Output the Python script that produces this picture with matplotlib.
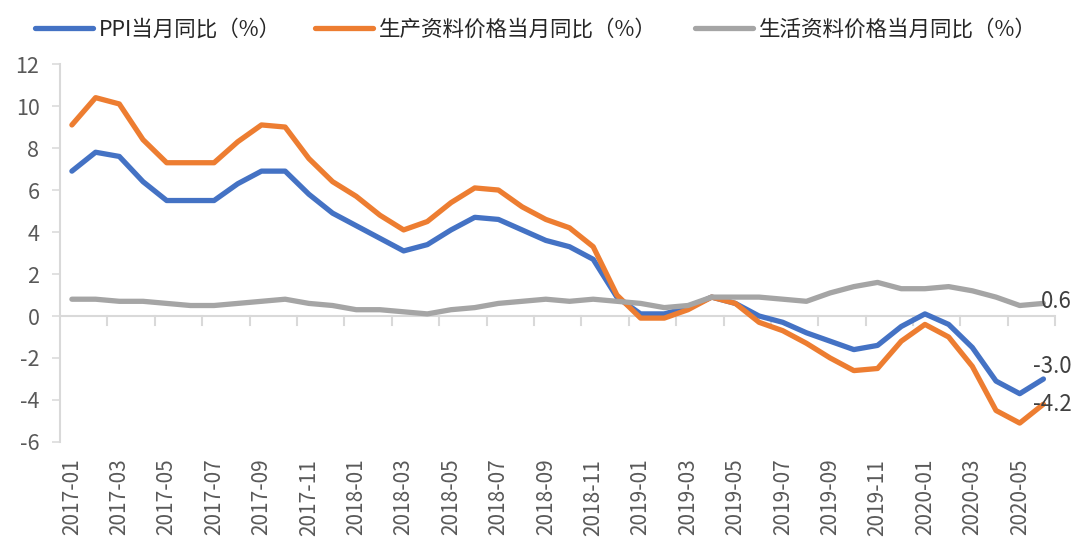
import matplotlib
matplotlib.use("Agg")
import matplotlib.pyplot as plt

plt.rcParams['font.family'] = ['Noto Sans CJK SC', 'DejaVu Sans']
plt.rcParams['axes.unicode_minus'] = False

months = ["2017-01", "2017-02", "2017-03", "2017-04", "2017-05", "2017-06", "2017-07", "2017-08", "2017-09",
          "2017-10", "2017-11", "2017-12", "2018-01", "2018-02", "2018-03", "2018-04", "2018-05", "2018-06",
          "2018-07", "2018-08", "2018-09", "2018-10", "2018-11", "2018-12", "2019-01", "2019-02", "2019-03",
          "2019-04", "2019-05", "2019-06", "2019-07", "2019-08", "2019-09", "2019-10", "2019-11", "2019-12",
          "2020-01", "2020-02", "2020-03", "2020-04", "2020-05", "2020-06"]
ppi = [6.9, 7.8, 7.6, 6.4, 5.5, 5.5, 5.5, 6.3, 6.9, 6.9, 5.8, 4.9,
       4.3, 3.7, 3.1, 3.4, 4.1, 4.7, 4.6, 4.1, 3.6, 3.3, 2.7, 0.9,
       0.1, 0.1, 0.4, 0.9, 0.6, 0.0, -0.3, -0.8, -1.2, -1.6, -1.4, -0.5,
       0.1, -0.4, -1.5, -3.1, -3.7, -3.0]
producer = [9.1, 10.4, 10.1, 8.4, 7.3, 7.3, 7.3, 8.3, 9.1, 9.0, 7.5, 6.4,
            5.7, 4.8, 4.1, 4.5, 5.4, 6.1, 6.0, 5.2, 4.6, 4.2, 3.3, 1.0,
            -0.1, -0.1, 0.3, 0.9, 0.6, -0.3, -0.7, -1.3, -2.0, -2.6, -2.5, -1.2,
            -0.4, -1.0, -2.4, -4.5, -5.1, -4.2]
consumer = [0.8, 0.8, 0.7, 0.7, 0.6, 0.5, 0.5, 0.6, 0.7, 0.8, 0.6, 0.5,
            0.3, 0.3, 0.2, 0.1, 0.3, 0.4, 0.6, 0.7, 0.8, 0.7, 0.8, 0.7,
            0.6, 0.4, 0.5, 0.9, 0.9, 0.9, 0.8, 0.7, 1.1, 1.4, 1.6, 1.3,
            1.3, 1.4, 1.2, 0.9, 0.5, 0.6]
names = ["PPI当月同比（%）", "生产资料价格当月同比（%）", "生活资料价格当月同比（%）"]
colors = ["#4472C4", "#ED7D31", "#A5A5A5"]
legend_x = [0.0324, 0.2917, 0.6435]

fig = plt.figure(figsize=(10.8, 5.57), dpi=100)
ax = fig.add_axes([0.0556, 0.2065, 0.9215, 0.6785])

x = list(range(len(months)))
lines = []
for ys, name, c in zip([ppi, producer, consumer], names, colors):
    ln, = ax.plot(x, ys, color=c, lw=3.8, label=name, solid_capstyle='round', solid_joinstyle='round')
    lines.append(ln)

ax.set_xlim(-0.5, len(months) - 0.5)
ax.set_ylim(-6, 12)
ax.set_yticks(range(-6, 13, 2))
ax.tick_params(axis='y', length=5.8, width=1.1, color='#D9D9D9', labelsize=15.5, labelcolor='#595959', pad=9)

ax.set_xticks(x[::2])
ax.set_xticklabels(months[::2], rotation=90, fontsize=15, color='#595959')
ax.tick_params(axis='x', length=0, pad=12)

# zero axis line with ticks between categories
ax.axhline(0, color='#D9D9D9', lw=1.5, zorder=0)
for t in [i + 0.5 for i in range(1, len(months), 2)]:
    ax.plot([t, t], [0, -0.43], color='#D9D9D9', lw=1.5, zorder=0, clip_on=False)

for s in ['top', 'right', 'bottom']:
    ax.spines[s].set_visible(False)
ax.spines['left'].set_color('#D9D9D9')
ax.spines['left'].set_linewidth(1.5)

# end labels
ax.text(x[-1] - 0.1, consumer[-1] + 0.1, f"{consumer[-1]:.1f}", fontsize=16, color='#404040', va='center', ha='left')
ax.text(x[-1] - 0.45, ppi[-1] + 0.05, f"{ppi[-1]:.1f}", fontsize=16, color='#404040', va='bottom', ha='left')
ax.text(x[-1] - 0.45, producer[-1], f"{producer[-1]:.1f}", fontsize=16, color='#404040', va='center', ha='left')

for ln, lx in zip(lines, legend_x):
    fig.legend(handles=[ln], loc='center left', bbox_to_anchor=(lx, 0.947), frameon=False, fontsize=15.5,
               borderpad=0, borderaxespad=0, handlelength=2.7, handletextpad=0.25, labelcolor='#262626')

fig.savefig("out.png", dpi=100)
